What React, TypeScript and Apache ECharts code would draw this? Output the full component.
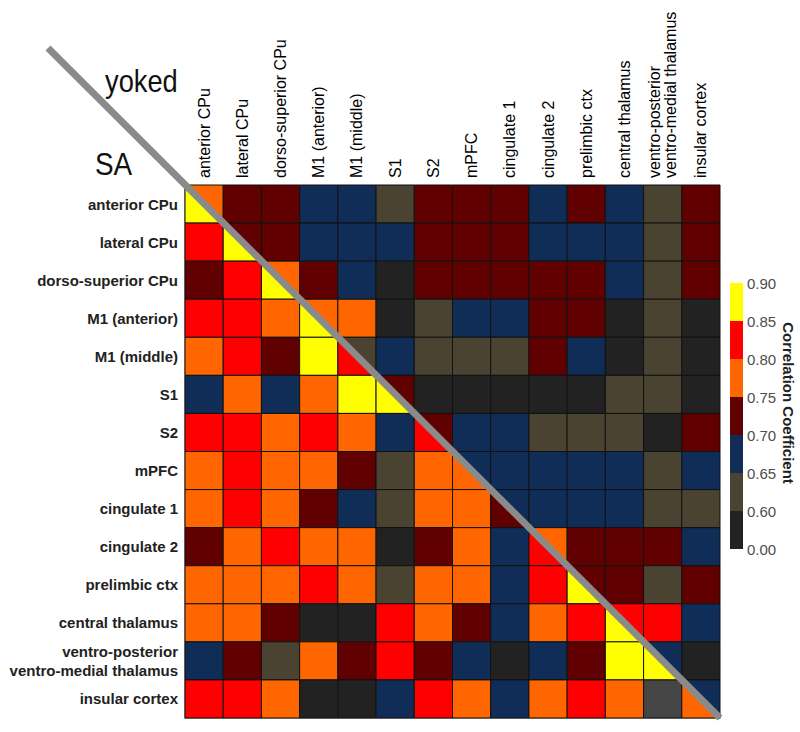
import React, { useEffect, useRef } from "react";
import * as echarts from "echarts";

// Brain regions (rows top→bottom, columns left→right)
const regions = [
  "anterior CPu",
  "lateral CPu",
  "dorso-superior CPu",
  "M1 (anterior)",
  "M1 (middle)",
  "S1",
  "S2",
  "mPFC",
  "cingulate 1",
  "cingulate 2",
  "prelimbic ctx",
  "central thalamus",
  "ventro-posterior\nventro-medial thalamus",
  "insular cortex",
];

// Colour bins of the correlation coefficient
const binEdges = [0.0, 0.6, 0.65, 0.7, 0.75, 0.8, 0.85, 0.9];
const binColors = ["#222222", "#4a4331", "#0f2d57", "#600000", "#ff6600", "#ff0000", "#ffff00"];
const tickLabels = ["0.00", "0.60", "0.65", "0.70", "0.75", "0.80", "0.85", "0.90"];
const missingColor = "#454545";

// Correlation matrix: upper triangle = yoked, lower triangle = SA (diagonal given separately)
const corr: (number | null)[][] = [
  [1, 0.72, 0.72, 0.67, 0.67, 0.62, 0.72, 0.72, 0.72, 0.67, 0.72, 0.67, 0.62, 0.72],
  [0.82, 1, 0.72, 0.67, 0.67, 0.67, 0.72, 0.72, 0.72, 0.67, 0.67, 0.67, 0.62, 0.72],
  [0.72, 0.82, 1, 0.72, 0.67, 0.55, 0.72, 0.72, 0.72, 0.72, 0.72, 0.67, 0.62, 0.72],
  [0.82, 0.82, 0.77, 1, 0.77, 0.55, 0.62, 0.67, 0.67, 0.72, 0.72, 0.55, 0.62, 0.55],
  [0.77, 0.82, 0.72, 0.87, 1, 0.67, 0.62, 0.62, 0.62, 0.72, 0.67, 0.55, 0.62, 0.55],
  [0.67, 0.77, 0.67, 0.77, 0.87, 1, 0.55, 0.55, 0.55, 0.55, 0.55, 0.62, 0.62, 0.55],
  [0.82, 0.82, 0.77, 0.82, 0.77, 0.67, 1, 0.67, 0.67, 0.62, 0.62, 0.62, 0.55, 0.72],
  [0.77, 0.82, 0.77, 0.77, 0.72, 0.62, 0.77, 1, 0.67, 0.67, 0.67, 0.67, 0.62, 0.67],
  [0.77, 0.82, 0.77, 0.72, 0.67, 0.62, 0.77, 0.77, 1, 0.67, 0.67, 0.67, 0.62, 0.62],
  [0.72, 0.77, 0.82, 0.77, 0.77, 0.55, 0.72, 0.77, 0.67, 1, 0.72, 0.72, 0.72, 0.67],
  [0.77, 0.77, 0.77, 0.82, 0.77, 0.62, 0.77, 0.77, 0.67, 0.82, 1, 0.72, 0.62, 0.72],
  [0.77, 0.77, 0.72, 0.55, 0.55, 0.82, 0.77, 0.72, 0.67, 0.77, 0.82, 1, 0.82, 0.67],
  [0.67, 0.72, 0.62, 0.77, 0.72, 0.82, 0.72, 0.67, 0.55, 0.67, 0.72, 0.87, 1, 0.55],
  [0.82, 0.82, 0.77, 0.55, 0.55, 0.67, 0.82, 0.77, 0.67, 0.77, 0.82, 0.77, null, 1],
];

// Diagonal: yoked (upper-right half) and SA (lower-left half)
const diagYoked = [0.77, 0.72, 0.77, 0.77, 0.62, 0.72, 0.72, 0.67, 0.67, 0.77, 0.72, 0.82, 0.67, 0.67];
const diagSA = [0.87, 0.87, 0.87, 0.87, 0.82, 0.87, 0.82, 0.77, 0.72, 0.82, 0.87, 0.87, 0.87, 0.77];

function colorOf(v: number | null): string {
  if (v === null || v === undefined || isNaN(v as number)) return missingColor;
  for (let i = binColors.length - 1; i >= 0; i--) {
    if ((v as number) >= binEdges[i]) return binColors[i];
  }
  return binColors[0];
}

type Cell = { value: [number, number, number | null, number]; color: string };

function buildCells(): Cell[] {
  const cells: Cell[] = [];
  for (let r = 0; r < regions.length; r++) {
    for (let c = 0; c < regions.length; c++) {
      if (r === c) {
        cells.push({ value: [c, r, diagYoked[r], 1], color: colorOf(diagYoked[r]) });
        cells.push({ value: [c, r, diagSA[r], 2], color: colorOf(diagSA[r]) });
      } else {
        const v = corr[r][c];
        cells.push({ value: [c, r, v, 0], color: colorOf(v) });
      }
    }
  }
  return cells;
}

const FONT = "Liberation Sans, Arial, sans-serif";

export default function App() {
  const ref = useRef<HTMLDivElement>(null);

  useEffect(() => {
    document.body.style.margin = "0";
    if (!ref.current) return;
    const chart = echarts.init(ref.current, null, { renderer: "svg" });
    const cells = buildCells();
    const n = regions.length;

    const option: any = {
      animation: false,
      backgroundColor: "#ffffff",
      grid: [
        { left: 185, top: 185, width: 535, height: 533 },
        { left: 730, top: 283, width: 13, height: 266 },
      ],
      xAxis: [
        {
          type: "category",
          gridIndex: 0,
          position: "top",
          data: regions,
          axisLine: { show: false },
          axisTick: { show: false },
          splitLine: { show: false },
          axisLabel: {
            interval: 0,
            rotate: -90,
            align: "left",
            verticalAlign: "middle",
            margin: 7,
            color: "#000",
            fontSize: 16,
            fontFamily: FONT,
            lineHeight: 16,
          },
        },
        { type: "category", gridIndex: 1, data: [""], show: false },
        {
          type: "category",
          gridIndex: 0,
          position: "bottom",
          data: regions,
          axisLine: { show: true, lineStyle: { color: "#aaaaaa", width: 2 } },
          axisTick: { show: false },
          axisLabel: { show: false },
          splitLine: { show: false },
        },
      ],
      yAxis: [
        {
          type: "category",
          gridIndex: 0,
          inverse: true,
          data: regions,
          axisLine: { show: true, lineStyle: { color: "#aaaaaa", width: 2 } },
          axisTick: { show: false },
          splitLine: { show: false },
          axisLabel: {
            interval: 0,
            margin: 7,
            color: "#222",
            fontSize: 15,
            fontWeight: "bold",
            fontFamily: FONT,
            lineHeight: 19,
          },
        },
        {
          type: "value",
          gridIndex: 1,
          position: "right",
          min: 0,
          max: 7,
          interval: 1,
          axisLine: { show: false },
          axisTick: { show: false },
          splitLine: { show: false },
          axisLabel: {
            margin: 4,
            color: "#4d4d4d",
            fontSize: 15,
            fontFamily: FONT,
            formatter: (v: number) => tickLabels[Math.round(v)],
          },
        },
      ],
      series: [
        {
          type: "custom",
          xAxisIndex: 0,
          yAxisIndex: 0,
          data: cells.map((c) => c.value),
          renderItem: (params: any, api: any) => {
            const cell = cells[params.dataIndex];
            const part = cell.value[3];
            const center = api.coord([api.value(0), api.value(1)]);
            const size = api.size([1, 1]);
            const w = size[0];
            const h = size[1];
            const x0 = center[0] - w / 2;
            const y0 = center[1] - h / 2;
            const x1 = x0 + w;
            const y1 = y0 + h;
            const style = { fill: cell.color, stroke: "#111", lineWidth: 1 };
            if (part === 0) {
              return { type: "rect", shape: { x: x0, y: y0, width: w, height: h }, style };
            }
            const pts =
              part === 1
                ? [[x0, y0], [x1, y0], [x1, y1]]
                : [[x0, y0], [x0, y1], [x1, y1]];
            return { type: "polygon", shape: { points: pts }, style };
          },
        },
        {
          type: "custom",
          xAxisIndex: 0,
          yAxisIndex: 0,
          data: [[0, 0]],
          z: 5,
          renderItem: (params: any, api: any) => {
            const a = api.coord([0, 0]);
            const b = api.coord([n - 1, n - 1]);
            const size = api.size([1, 1]);
            const xs = a[0] - size[0] / 2;
            const ys = a[1] - size[1] / 2;
            const xe = b[0] + size[0] / 2;
            const ye = b[1] + size[1] / 2;
            const ext = 137;
            return {
              type: "line",
              shape: { x1: xs - ext, y1: ys - ext, x2: xe, y2: ye },
              style: { stroke: "#8a8a8a", lineWidth: 7 },
            };
          },
        },
        ...binColors.map((col) => ({
          type: "bar",
          xAxisIndex: 1,
          yAxisIndex: 1,
          stack: "cb",
          barWidth: "100%",
          data: [1],
          itemStyle: { color: col },
          silent: true,
        })),
      ],
      graphic: [
        {
          type: "text",
          x: 105,
          y: 66,
          scaleX: 0.88,
          style: {
            text: "yoked",
            fontSize: 31,
            fontFamily: FONT,
            fill: "#111",
          },
        },
        {
          type: "text",
          x: 95,
          y: 148,
          scaleX: 0.9,
          style: {
            text: "SA",
            fontSize: 31,
            fontFamily: FONT,
            fill: "#111",
          },
        },
        {
          type: "text",
          x: 788,
          y: 403,
          rotation: -Math.PI / 2,
          style: {
            text: "Correlation Coefficient",
            fontSize: 15,
            fontWeight: "bold",
            fontFamily: FONT,
            fill: "#222",
            align: "center",
            verticalAlign: "middle",
          },
        },
      ],
    };

    chart.setOption(option);
    return () => chart.dispose();
  }, []);

  return <div ref={ref} style={{ width: 800, height: 732 }} />;
}
